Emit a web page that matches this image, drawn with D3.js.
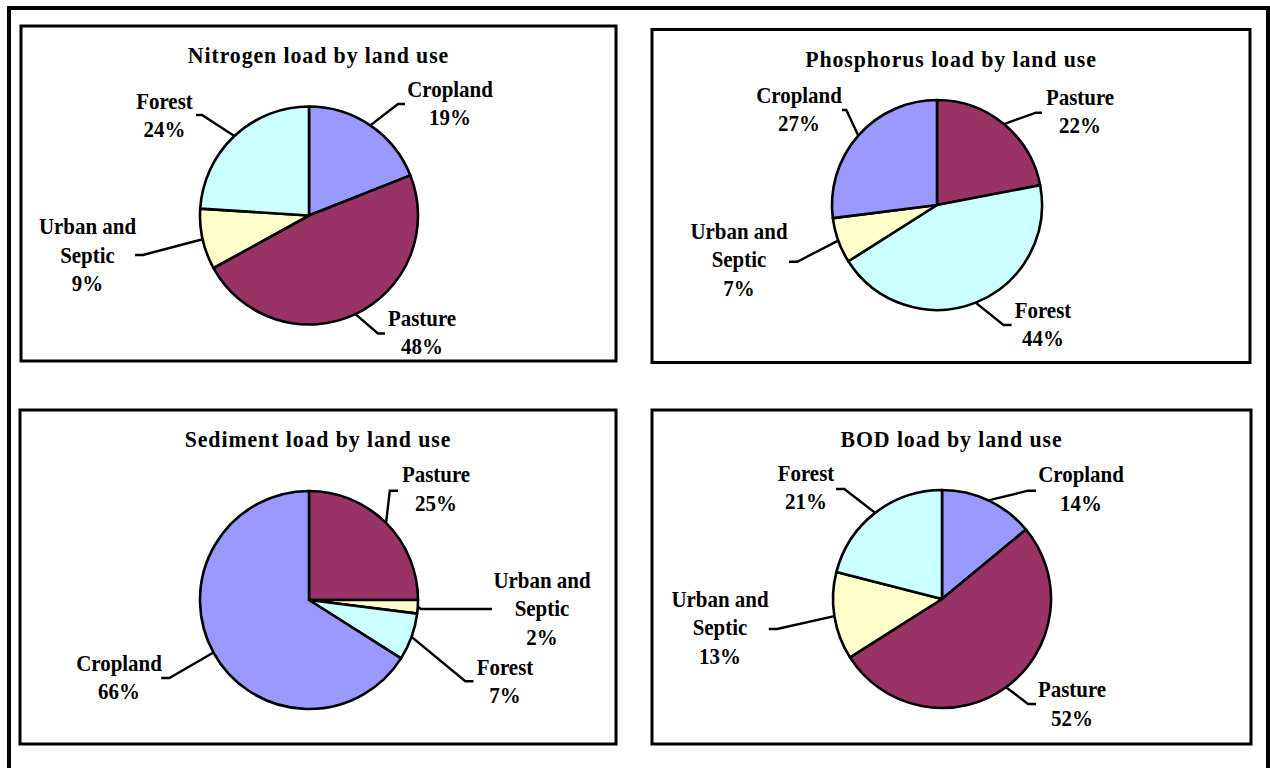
<!DOCTYPE html>
<html>
<head>
<meta charset="utf-8">
<style>
  body { margin: 0; background-color: white; }
  svg { font-family: 'Liberation Serif', 'Times New Roman', serif; font-weight: bold; }
  .panel { fill: white; stroke: black; stroke-width: 3px; }
  .slice { stroke: black; stroke-width: 2.6px; stroke-linejoin: round; }
  .leader { fill: none; stroke: black; stroke-width: 2.4px; }
  .title { font-size: 24px; letter-spacing: 1px; }
  .label { font-size: 23px; }
</style>
</head>
<body>

<script src="https://d3js.org/d3.v7.min.js"></script>

<div id="my_dataviz"></div>

<script>

// land use categories and their colours
var categories = ["Cropland", "Pasture", "Urban and Septic", "Forest"];
var categoryColors = ["#9999FF", "#993366", "#FFFFCC", "#CCFFFF"];

// one chart per pollutant, slices listed clockwise from 12 o'clock
var titles = ["Nitrogen load by land use", "Phosphorus load by land use",
              "Sediment load by land use", "BOD load by land use"];

var nitrogenOrder = ["Cropland", "Pasture", "Urban and Septic", "Forest"];
var nitrogenValues = [19, 48, 9, 24];

var phosphorusOrder = ["Pasture", "Forest", "Urban and Septic", "Cropland"];
var phosphorusValues = [22, 44, 7, 27];

var sedimentOrder = ["Pasture", "Urban and Septic", "Forest", "Cropland"];
var sedimentValues = [25, 2, 7, 66];

var bodOrder = ["Cropland", "Pasture", "Urban and Septic", "Forest"];
var bodValues = [14, 52, 13, 21];

var width = 1270, height = 768;

// panel boxes, pie centres and label placement (label offsets are relative to the pie centre:
// text x, first baseline, leader elbow x/y, leader end x)
var layout = [
  { box: [21, 26, 595, 335], cx: 309, cy: 215.5, r: 109,
    labels: { "Cropland": [141, -118.5, 89, -111.5, 96],
              "Pasture": [113, 110.5, 69, 118, 76],
              "Urban and Septic": [-221.5, 18.8, -166, 39.5, -174],
              "Forest": [-144.5, -106.5, -107, -100.5, -113] } },
  { box: [652, 29.5, 598, 333], cx: 937, cy: 205, r: 105,
    labels: { "Pasture": [143, -100, 99, -92.3, 105],
              "Forest": [106, 113, 66.5, 120, 74.6],
              "Urban and Septic": [-198, 34, -139.7, 56.7, -148],
              "Cropland": [-138, -102.3, -90.7, -95, -95] } },
  { box: [20, 410, 596, 334], cx: 309, cy: 600, r: 109,
    labels: { "Pasture": [127, -117.7, 80.8, -109.3, 89],
              "Urban and Septic": [233, -12, 112, 9, 183],
              "Forest": [196, 74.7, 156.3, 81.3, 164.5],
              "Cropland": [-190, 70.7, -139.6, 78, -147.8] } },
  { box: [652, 410, 599, 334], cx: 942, cy: 599, r: 109,
    labels: { "Cropland": [139, -116.7, 86, -108.3, 94],
              "Pasture": [130, 98.3, 86, 105, 94],
              "Urban and Septic": [-222, 7.7, -165, 30, -173.2],
              "Forest": [-136, -118.3, -97.7, -110, -106] } }
];

var charts = [
  { order: nitrogenOrder, values: nitrogenValues },
  { order: phosphorusOrder, values: phosphorusValues },
  { order: sedimentOrder, values: sedimentValues },
  { order: bodOrder, values: bodValues }
];

var lineGap = 28.5;
var squeeze = 0.91;   // the original lettering is a bit condensed

var color = d3.scaleOrdinal()
  .domain(categories)
  .range(categoryColors);

var svg = d3.select("#my_dataviz")
  .append("svg")
    .attr("width", width)
    .attr("height", height);

// outer frame
svg.append("rect")
  .attr("x", 9)
  .attr("y", 8)
  .attr("width", 1259)
  .attr("height", 800)
  .attr("fill", "none")
  .attr("stroke", "black")
  .attr("stroke-width", 4);

var pie = d3.pie()
  .sort(null)
  .value(function(d) { return d.value; });

charts.forEach(function(chart, i) {
  var lay = layout[i];
  var data = chart.order.map(function(c, j) { return { cat: c, value: chart.values[j] }; });

  var g = svg.append("g");

  g.append("rect")
    .attr("class", "panel")
    .attr("x", lay.box[0])
    .attr("y", lay.box[1])
    .attr("width", lay.box[2])
    .attr("height", lay.box[3]);

  g.append("text")
    .attr("class", "title")
    .attr("transform", "translate(" + (lay.box[0] + lay.box[2] / 2) + "," + (lay.box[1] + 37) + ") scale(" + squeeze + ",1)")
    .attr("text-anchor", "middle")
    .text(titles[i]);

  var arc = d3.arc().innerRadius(0).outerRadius(lay.r);
  var edge = d3.arc().innerRadius(lay.r).outerRadius(lay.r);

  var pg = g.append("g")
    .attr("transform", "translate(" + lay.cx + "," + lay.cy + ")");

  var arcs = pie(data);

  pg.selectAll("path.slice")
    .data(arcs)
    .enter()
    .append("path")
      .attr("class", "slice")
      .attr("fill", function(d) { return color(d.data.cat); })
      .attr("d", arc);

  // leader lines: pie edge -> elbow -> short horizontal end
  pg.selectAll("path.leader")
    .data(arcs)
    .enter()
    .append("path")
      .attr("class", "leader")
      .attr("d", function(d) {
        var p = edge.centroid(d);
        var l = lay.labels[d.data.cat];
        return d3.line()([p, [l[2], l[3]], [l[4], l[3]]]);
      });

  // labels
  pg.selectAll("text.label")
    .data(arcs)
    .enter()
    .append("text")
      .attr("class", "label")
      .attr("text-anchor", "middle")
      .attr("transform", function(d) {
        var l = lay.labels[d.data.cat];
        return "translate(" + l[0] + "," + l[1] + ") scale(" + squeeze + ",1)";
      })
      .each(function(d) {
        var lines = d.data.cat == "Urban and Septic" ? ["Urban and", "Septic"] : [d.data.cat];
        lines.push(d.data.value + "%");
        var t = d3.select(this);
        lines.forEach(function(s, k) {
          t.append("tspan")
            .attr("x", 0)
            .attr("y", k * lineGap)
            .text(s);
        });
      });
});

</script>
</body>
</html>
